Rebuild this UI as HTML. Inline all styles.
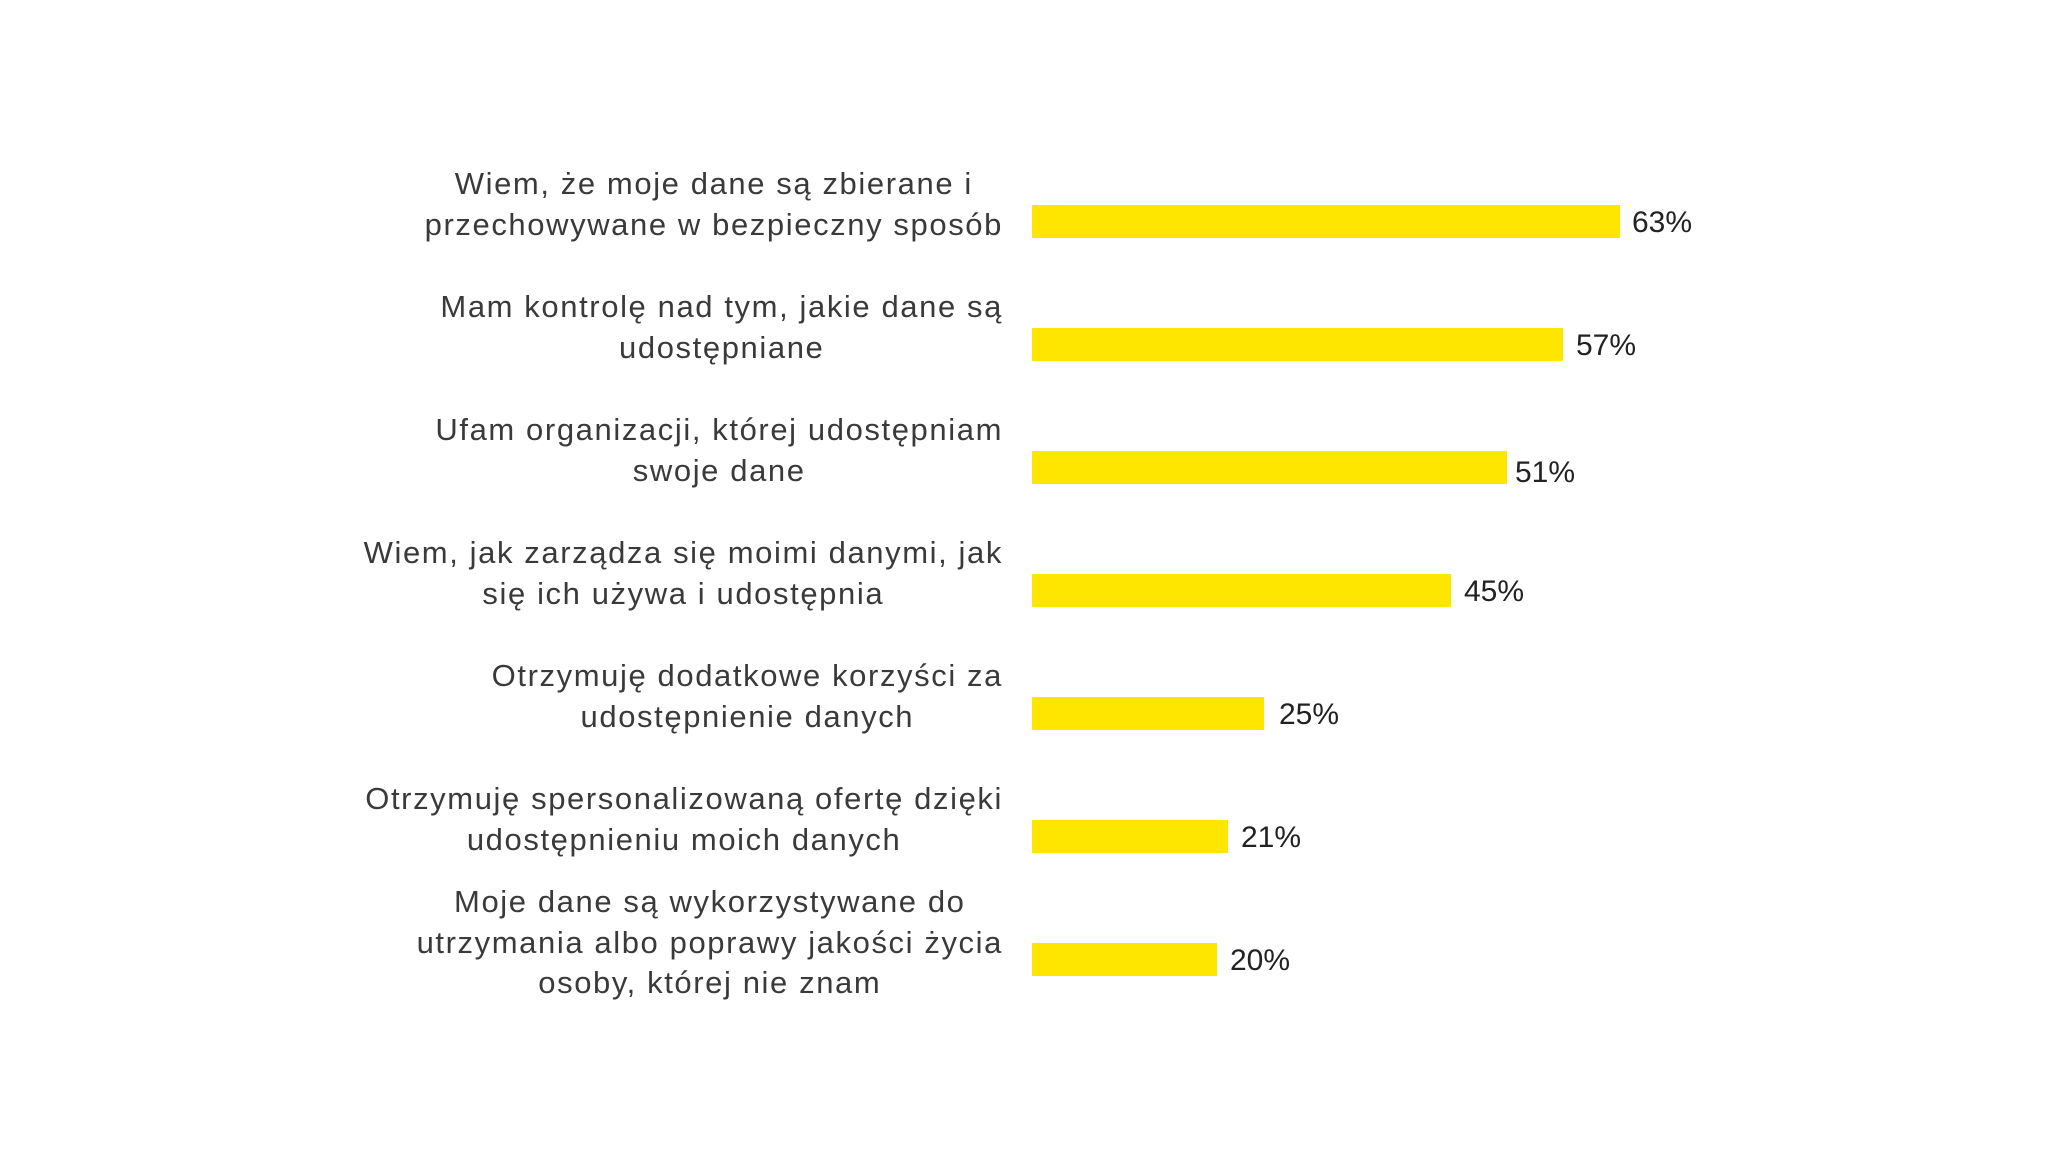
<!DOCTYPE html>
<html><head><meta charset="utf-8"><style>
body{margin:0;width:2048px;height:1151px;background:#fff;position:relative;overflow:hidden;font-family:"Liberation Sans","DejaVu Sans",sans-serif;}
.lab{position:absolute;font-size:31px;line-height:40.5px;color:#3a3a3a;letter-spacing:1.6px;}
.bar{position:absolute;left:1032px;height:33px;background:#ffe600;}
.val{position:absolute;font-size:30px;color:#222;line-height:33px;}
</style></head><body>
<div class="lab" style="top:164px;right:1045px;text-align:right;width:800px"><span style="display:inline-block;text-align:center">Wiem, że moje dane są zbierane i<br>przechowywane w bezpieczny sposób</span></div>
<div class="bar" style="top:205px;width:588px"></div><div class="val" style="left:1632px;top:206px">63%</div>

<div class="lab" style="top:287px;right:1045px;text-align:right;width:800px"><span style="display:inline-block;text-align:center">Mam kontrolę nad tym, jakie dane są<br>udostępniane</span></div>
<div class="bar" style="top:328px;width:531px"></div><div class="val" style="left:1576px;top:329px">57%</div>

<div class="lab" style="top:410px;right:1045px;text-align:right;width:800px"><span style="display:inline-block;text-align:center">Ufam organizacji, której udostępniam<br>swoje dane</span></div>
<div class="bar" style="top:451px;width:475px"></div><div class="val" style="left:1515px;top:456px">51%</div>

<div class="lab" style="top:533px;right:1045px;text-align:right;width:800px"><span style="display:inline-block;text-align:center">Wiem, jak zarządza się moimi danymi, jak<br>się ich używa i udostępnia</span></div>
<div class="bar" style="top:574px;width:419px"></div><div class="val" style="left:1464px;top:575px">45%</div>

<div class="lab" style="top:656px;right:1045px;text-align:right;width:800px"><span style="display:inline-block;text-align:center">Otrzymuję dodatkowe korzyści za<br>udostępnienie danych</span></div>
<div class="bar" style="top:697px;width:232px"></div><div class="val" style="left:1279px;top:698px">25%</div>

<div class="lab" style="top:779px;right:1045px;text-align:right;width:800px"><span style="display:inline-block;text-align:center">Otrzymuję spersonalizowaną ofertę dzięki<br>udostępnieniu moich danych</span></div>
<div class="bar" style="top:820px;width:196px"></div><div class="val" style="left:1241px;top:821px">21%</div>

<div class="lab" style="top:882px;right:1045px;text-align:right;width:800px"><span style="display:inline-block;text-align:center">Moje dane są wykorzystywane do<br>utrzymania albo poprawy jakości życia<br>osoby, której nie znam</span></div>
<div class="bar" style="top:943px;width:185px"></div><div class="val" style="left:1230px;top:944px">20%</div>
</body></html>
